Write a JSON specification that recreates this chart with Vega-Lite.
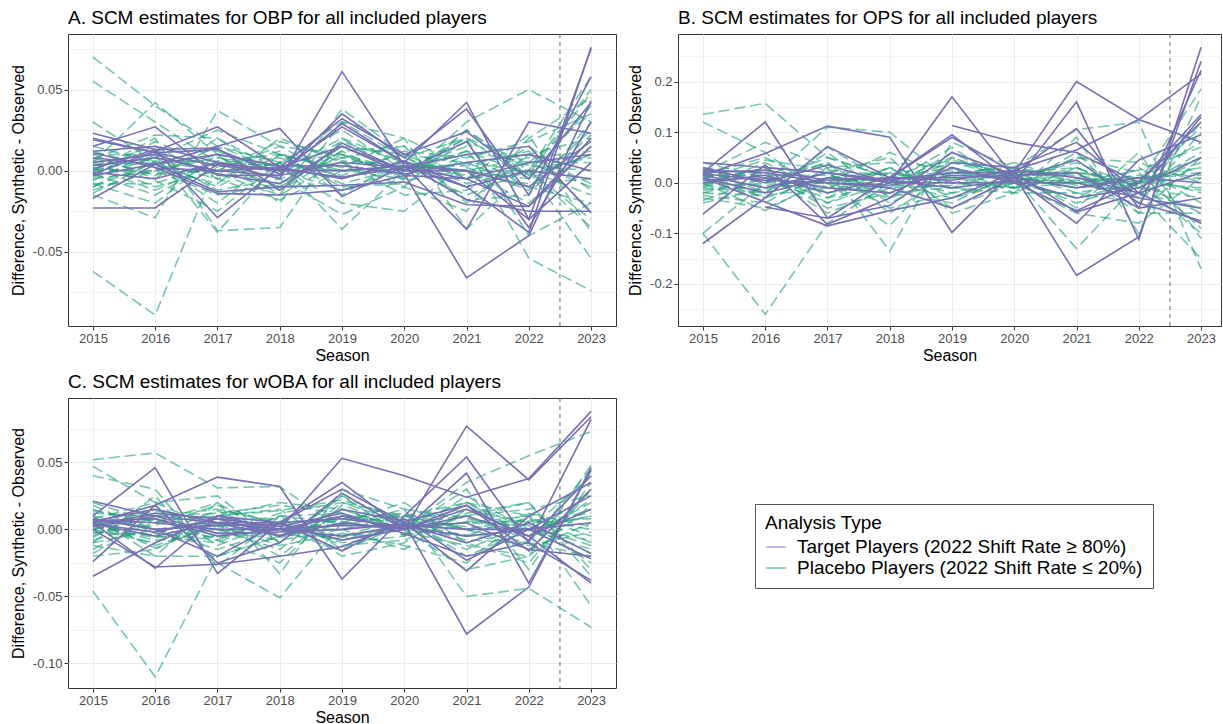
{
  "$schema": "https://vega.github.io/schema/vega-lite/v6.json",
  "padding": {"left": 9, "top": 8, "right": 0, "bottom": 0},
  "data": {"values": [
    {"m":"OBP","g":"P","id":1,"s":[2015,2016,2017,2018,2019,2020,2021,2022,2023],"v":[0.070,0.040,0.015,0.005,0.010,0.000,0.020,0.005,0.035]},
    {"m":"OBP","g":"P","id":2,"s":[2015,2016,2017,2018,2019,2020,2021,2022,2023],"v":[0.055,0.030,0.005,-0.010,0.015,0.010,0.005,-0.010,-0.020]},
    {"m":"OBP","g":"P","id":3,"s":[2015,2016,2017,2018,2019,2020,2021,2022,2023],"v":[0.030,0.005,-0.010,0.010,0.000,-0.005,0.030,0.050,0.030]},
    {"m":"OBP","g":"P","id":4,"s":[2015,2016,2017,2018,2019,2020,2021,2022,2023],"v":[-0.062,-0.089,0.005,0.003,0.000,0.003,0.000,-0.005,0.010]},
    {"m":"OBP","g":"P","id":5,"s":[2015,2016,2017,2018,2019,2020,2021,2022,2023],"v":[0.005,0.042,0.010,-0.015,0.038,0.010,-0.005,0.000,0.058]},
    {"m":"OBP","g":"P","id":6,"s":[2015,2016,2017,2018,2019,2020,2021,2022,2023],"v":[-0.015,-0.029,0.037,0.015,0.010,-0.005,0.025,0.000,-0.054]},
    {"m":"OBP","g":"P","id":7,"s":[2015,2016,2017,2018,2019,2020,2021,2022,2023],"v":[0.000,0.020,-0.037,-0.035,0.020,0.005,0.000,0.000,0.050]},
    {"m":"OBP","g":"P","id":8,"s":[2015,2016,2017,2018,2019,2020,2021,2022,2023],"v":[-0.010,0.010,-0.038,0.005,-0.036,0.000,0.015,-0.054,-0.074]},
    {"m":"OBP","g":"P","id":9,"s":[2015,2016,2017,2018,2019,2020,2021,2022,2023],"v":[0.010,-0.005,0.020,-0.005,-0.027,-0.010,-0.025,0.020,0.045]},
    {"m":"OBP","g":"P","id":10,"s":[2015,2016,2017,2018,2019,2020,2021,2022,2023],"v":[-0.005,0.000,0.010,-0.020,0.030,0.020,-0.036,0.000,-0.035]},
    {"m":"OBP","g":"P","id":11,"s":[2015,2016,2017,2018,2019,2020,2021,2022,2023],"v":[0.003,0.015,-0.005,0.005,0.025,0.000,0.020,-0.005,0.040]},
    {"m":"OBP","g":"P","id":12,"s":[2015,2016,2017,2018,2019,2020,2021,2022,2023],"v":[-0.008,-0.008,0.005,-0.010,0.012,0.015,-0.005,0.022,-0.038]},
    {"m":"OBP","g":"P","id":13,"s":[2015,2016,2017,2018,2019,2020,2021,2022,2023],"v":[0.015,0.005,-0.020,0.010,-0.010,-0.008,0.010,-0.010,0.025]},
    {"m":"OBP","g":"P","id":14,"s":[2015,2016,2017,2018,2019,2020,2021,2022,2023],"v":[-0.012,0.000,0.008,0.000,0.005,-0.015,-0.012,0.005,-0.010]},
    {"m":"OBP","g":"P","id":15,"s":[2015,2016,2017,2018,2019,2020,2021,2022,2023],"v":[0.005,-0.010,0.000,0.015,-0.005,0.005,0.000,-0.020,0.015]},
    {"m":"OBP","g":"P","id":16,"s":[2015,2016,2017,2018,2019,2020,2021,2022,2023],"v":[0.000,0.008,-0.012,-0.005,0.008,0.000,0.005,0.010,0.020]},
    {"m":"OBP","g":"P","id":17,"s":[2015,2016,2017,2018,2019,2020,2021,2022,2023],"v":[-0.003,0.018,0.002,0.012,-0.015,0.008,-0.008,0.000,-0.015]},
    {"m":"OBP","g":"P","id":18,"s":[2015,2016,2017,2018,2019,2020,2021,2022,2023],"v":[0.008,-0.003,0.015,0.000,0.020,-0.003,0.012,0.005,0.005]},
    {"m":"OBP","g":"P","id":19,"s":[2015,2016,2017,2018,2019,2020,2021,2022,2023],"v":[-0.010,0.005,-0.005,-0.018,0.000,0.010,-0.018,-0.015,0.030]},
    {"m":"OBP","g":"P","id":20,"s":[2015,2016,2017,2018,2019,2020,2021,2022,2023],"v":[0.002,-0.012,0.005,0.008,-0.008,0.002,0.003,0.012,-0.025]},
    {"m":"OBP","g":"P","id":21,"s":[2015,2016,2017,2018,2019,2020,2021,2022,2023],"v":[0.012,0.002,-0.008,0.020,0.005,-0.010,0.025,-0.003,0.010]},
    {"m":"OBP","g":"P","id":22,"s":[2015,2016,2017,2018,2019,2020,2021,2022,2023],"v":[-0.006,0.012,0.012,-0.002,0.018,0.005,-0.003,-0.008,-0.005]},
    {"m":"OBP","g":"P","id":23,"s":[2015,2016,2017,2018,2019,2020,2021,2022,2023],"v":[0.004,-0.006,-0.025,0.005,-0.003,0.012,0.008,0.018,0.035]},
    {"m":"OBP","g":"P","id":24,"s":[2015,2016,2017,2018,2019,2020,2021,2022,2023],"v":[-0.014,0.006,0.000,-0.012,0.010,-0.004,0.018,0.003,0.000]},
    {"m":"OBP","g":"P","id":25,"s":[2015,2016,2017,2018,2019,2020,2021,2022,2023],"v":[0.007,0.022,0.020,0.000,-0.012,0.002,-0.015,0.000,-0.030]},
    {"m":"OBP","g":"P","id":26,"s":[2015,2016,2017,2018,2019,2020,2021,2022,2023],"v":[-0.002,-0.015,0.006,0.010,0.002,0.020,0.002,-0.012,0.022]},
    {"m":"OBP","g":"P","id":27,"s":[2015,2016,2017,2018,2019,2020,2021,2022,2023],"v":[0.000,0.000,-0.015,-0.008,0.012,-0.006,0.000,0.008,0.012]},
    {"m":"OBP","g":"P","id":28,"s":[2015,2016,2017,2018,2019,2020,2021,2022,2023],"v":[0.010,0.010,0.003,0.004,0.030,0.008,0.020,-0.040,-0.020]},
    {"m":"OBP","g":"P","id":29,"s":[2015,2016,2017,2018,2019,2020,2021,2022,2023],"v":[-0.008,-0.020,0.010,0.002,-0.020,-0.025,0.005,0.000,0.008]},
    {"m":"OBP","g":"P","id":30,"s":[2015,2016,2017,2018,2019,2020,2021,2022,2023],"v":[0.006,0.003,-0.002,-0.015,0.006,0.003,-0.010,0.015,-0.012]},
    {"m":"OBP","g":"P","id":31,"s":[2015,2016,2017,2018,2019,2020,2021,2022,2023],"v":[-0.004,0.008,0.025,0.010,0.000,0.000,0.012,-0.002,0.048]},
    {"m":"OBP","g":"P","id":32,"s":[2015,2016,2017,2018,2019,2020,2021,2022,2023],"v":[0.002,-0.002,0.000,0.018,0.008,0.015,-0.020,0.010,-0.008]},
    {"m":"OBP","g":"T","id":1,"s":[2015,2016,2017,2018,2019,2020,2021,2022,2023],"v":[-0.023,-0.023,0.004,0.001,-0.004,0.002,-0.005,-0.022,0.020]},
    {"m":"OBP","g":"T","id":2,"s":[2015,2016,2017,2018,2019,2020,2021,2022,2023],"v":[0.012,0.015,0.005,-0.005,0.061,0.003,-0.010,-0.038,0.076]},
    {"m":"OBP","g":"T","id":3,"s":[2015,2016,2017,2018,2019,2020,2021,2022,2023],"v":[0.020,0.011,0.013,-0.002,0.029,0.005,0.042,-0.030,0.075]},
    {"m":"OBP","g":"T","id":4,"s":[2015,2016,2017,2018,2019,2020,2021,2022,2023],"v":[0.015,0.027,-0.003,-0.003,0.035,0.008,0.038,-0.015,0.058]},
    {"m":"OBP","g":"T","id":5,"s":[2015,2016,2017,2018,2019,2020,2021,2022,2023],"v":[-0.002,0.012,0.027,0.002,0.015,-0.002,-0.066,-0.040,0.043]},
    {"m":"OBP","g":"T","id":6,"s":[2015,2016,2017,2018,2019,2020,2021,2022,2023],"v":[0.023,0.013,-0.029,0.002,0.032,0.010,0.024,-0.005,0.042]},
    {"m":"OBP","g":"T","id":7,"s":[2015,2016,2017,2018,2019,2020,2021,2022,2023],"v":[-0.017,0.004,0.015,0.026,-0.016,0.003,-0.036,0.030,0.023]},
    {"m":"OBP","g":"T","id":8,"s":[2015,2016,2017,2018,2019,2020,2021,2022,2023],"v":[0.001,0.013,0.014,-0.012,0.017,0.000,0.018,-0.035,0.030]},
    {"m":"OBP","g":"T","id":9,"s":[2015,2016,2017,2018,2019,2020,2021,2022,2023],"v":[-0.003,0.004,-0.013,-0.010,-0.009,-0.007,-0.021,-0.022,0.015]},
    {"m":"OBP","g":"T","id":10,"s":[2015,2016,2017,2018,2019,2020,2021,2022,2023],"v":[0.019,0.011,0.003,0.000,0.027,0.005,-0.018,-0.025,-0.025]},
    {"m":"OBP","g":"T","id":11,"s":[2016,2017,2018,2019,2020,2021,2022,2023],"v":[0.0015,0.000,-0.003,0.005,0.002,0.010,0.015,-0.026]},
    {"m":"OBP","g":"T","id":12,"s":[2015,2016,2017,2018,2019,2020,2021,2022,2023],"v":[0.011,0.002,-0.014,-0.015,-0.012,-0.003,-0.005,0.005,0.010]},
    {"m":"OBP","g":"T","id":13,"s":[2015,2016,2017,2018,2019,2020,2021,2022,2023],"v":[-0.001,-0.005,0.005,0.000,0.000,0.003,0.000,-0.010,0.018]},
    {"m":"OBP","g":"T","id":14,"s":[2015,2016,2017,2018,2019,2020,2021,2022,2023],"v":[0.003,0.008,0.000,0.002,-0.005,0.006,-0.010,0.000,-0.005]},
    {"m":"OBP","g":"T","id":15,"s":[2015,2016,2017,2018,2019,2020,2021,2022,2023],"v":[0.005,0.010,-0.002,-0.008,0.015,0.000,0.000,-0.030,0.005]},
    {"m":"OBP","g":"T","id":16,"s":[2015,2016,2017,2018,2019,2020,2021,2022,2023],"v":[0.008,0.004,0.010,0.003,0.003,-0.002,0.005,0.010,0.000]},

    {"m":"OPS","g":"P","id":1,"s":[2015,2016,2017,2018,2019,2020,2021,2022,2023],"v":[0.135,0.157,0.050,0.010,-0.020,0.000,0.020,0.010,0.030]},
    {"m":"OPS","g":"P","id":2,"s":[2015,2016,2017,2018,2019,2020,2021,2022,2023],"v":[0.120,0.060,-0.030,0.000,0.040,0.010,0.000,-0.020,-0.050]},
    {"m":"OPS","g":"P","id":3,"s":[2015,2016,2017,2018,2019,2020,2021,2022,2023],"v":[-0.100,-0.260,-0.080,0.000,0.020,0.010,-0.010,0.000,0.010]},
    {"m":"OPS","g":"P","id":4,"s":[2015,2016,2017,2018,2019,2020,2021,2022,2023],"v":[-0.100,0.000,0.110,0.100,0.000,0.020,0.030,-0.020,-0.150]},
    {"m":"OPS","g":"P","id":5,"s":[2015,2016,2017,2018,2019,2020,2021,2022,2023],"v":[0.020,0.080,0.030,-0.135,0.080,0.030,0.105,0.120,-0.170]},
    {"m":"OPS","g":"P","id":6,"s":[2015,2016,2017,2018,2019,2020,2021,2022,2023],"v":[-0.030,-0.050,0.000,-0.085,0.050,0.010,-0.130,0.000,0.185]},
    {"m":"OPS","g":"P","id":7,"s":[2015,2016,2017,2018,2019,2020,2021,2022,2023],"v":[0.000,0.030,0.020,0.050,-0.060,-0.020,0.090,-0.100,0.170]},
    {"m":"OPS","g":"P","id":8,"s":[2015,2016,2017,2018,2019,2020,2021,2022,2023],"v":[0.030,-0.020,0.060,-0.030,0.040,0.020,-0.050,0.060,-0.110]},
    {"m":"OPS","g":"P","id":9,"s":[2015,2016,2017,2018,2019,2020,2021,2022,2023],"v":[-0.020,0.010,-0.040,0.020,0.000,0.000,0.030,-0.030,0.120]},
    {"m":"OPS","g":"P","id":10,"s":[2015,2016,2017,2018,2019,2020,2021,2022,2023],"v":[0.010,-0.030,0.010,-0.010,0.060,0.000,0.000,0.010,0.080]},
    {"m":"OPS","g":"P","id":11,"s":[2015,2016,2017,2018,2019,2020,2021,2022,2023],"v":[-0.010,0.040,-0.020,0.030,-0.030,0.010,-0.040,0.000,-0.060]},
    {"m":"OPS","g":"P","id":12,"s":[2015,2016,2017,2018,2019,2020,2021,2022,2023],"v":[0.025,0.000,0.040,-0.040,0.020,0.020,0.020,-0.060,0.050]},
    {"m":"OPS","g":"P","id":13,"s":[2015,2016,2017,2018,2019,2020,2021,2022,2023],"v":[-0.040,-0.010,0.000,0.010,0.010,-0.010,0.050,0.020,-0.090]},
    {"m":"OPS","g":"P","id":14,"s":[2015,2016,2017,2018,2019,2020,2021,2022,2023],"v":[0.005,0.020,-0.050,-0.020,-0.010,0.030,0.010,0.000,0.030]},
    {"m":"OPS","g":"P","id":15,"s":[2015,2016,2017,2018,2019,2020,2021,2022,2023],"v":[-0.025,-0.040,0.030,0.040,0.030,-0.020,-0.020,-0.040,0.100]},
    {"m":"OPS","g":"P","id":16,"s":[2015,2016,2017,2018,2019,2020,2021,2022,2023],"v":[0.015,0.050,-0.010,0.000,0.050,0.000,-0.030,0.030,-0.040]},
    {"m":"OPS","g":"P","id":17,"s":[2015,2016,2017,2018,2019,2020,2021,2022,2023],"v":[-0.005,-0.015,0.020,-0.050,-0.020,0.010,0.040,-0.010,0.060]},
    {"m":"OPS","g":"P","id":18,"s":[2015,2016,2017,2018,2019,2020,2021,2022,2023],"v":[0.040,0.010,-0.030,0.030,0.000,-0.010,0.000,0.015,-0.020]},
    {"m":"OPS","g":"P","id":19,"s":[2015,2016,2017,2018,2019,2020,2021,2022,2023],"v":[-0.015,0.000,0.050,0.010,0.030,0.000,-0.060,-0.080,0.010]},
    {"m":"OPS","g":"P","id":20,"s":[2015,2016,2017,2018,2019,2020,2021,2022,2023],"v":[0.000,-0.055,0.010,-0.020,-0.040,0.020,0.020,0.000,-0.100]},
    {"m":"OPS","g":"P","id":21,"s":[2015,2016,2017,2018,2019,2020,2021,2022,2023],"v":[0.010,0.025,0.000,0.060,0.010,0.040,0.000,0.025,0.070]},
    {"m":"OPS","g":"P","id":22,"s":[2015,2016,2017,2018,2019,2020,2021,2022,2023],"v":[-0.035,0.010,-0.020,0.000,0.070,-0.010,0.010,-0.010,-0.030]},
    {"m":"OPS","g":"P","id":23,"s":[2015,2016,2017,2018,2019,2020,2021,2022,2023],"v":[0.020,-0.030,0.070,0.000,-0.030,0.000,0.050,0.040,0.000]},
    {"m":"OPS","g":"P","id":24,"s":[2015,2016,2017,2018,2019,2020,2021,2022,2023],"v":[0.000,0.015,-0.060,-0.010,0.020,0.020,-0.020,0.000,0.040]},
    {"m":"OPS","g":"P","id":25,"s":[2015,2016,2017,2018,2019,2020,2021,2022,2023],"v":[-0.010,-0.020,0.010,0.020,-0.010,-0.020,0.030,-0.020,-0.080]},
    {"m":"OPS","g":"P","id":26,"s":[2015,2016,2017,2018,2019,2020,2021,2022,2023],"v":[0.030,0.000,0.000,-0.030,0.010,0.010,-0.010,0.010,0.020]},
    {"m":"OPS","g":"P","id":27,"s":[2015,2016,2017,2018,2019,2020,2021,2022,2023],"v":[0.008,0.045,0.025,0.015,0.045,0.015,0.015,-0.005,0.110]},
    {"m":"OPS","g":"P","id":28,"s":[2015,2016,2017,2018,2019,2020,2021,2022,2023],"v":[-0.020,-0.025,-0.010,0.030,-0.050,0.000,-0.030,0.000,-0.010]},
    {"m":"OPS","g":"P","id":29,"s":[2015,2016,2017,2018,2019,2020,2021,2022,2023],"v":[0.015,0.005,0.040,-0.060,0.020,0.030,0.000,0.000,0.050]},
    {"m":"OPS","g":"P","id":30,"s":[2015,2016,2017,2018,2019,2020,2021,2022,2023],"v":[-0.005,0.030,-0.040,0.000,0.000,-0.010,0.060,-0.060,-0.060]},
    {"m":"OPS","g":"P","id":31,"s":[2015,2016,2017,2018,2019,2020,2021,2022,2023],"v":[0.000,-0.005,0.005,0.005,0.025,0.005,0.005,0.010,0.015]},
    {"m":"OPS","g":"P","id":32,"s":[2015,2016,2017,2018,2019,2020,2021,2022,2023],"v":[0.012,0.015,0.015,-0.010,-0.005,0.020,-0.005,0.005,-0.015]},
    {"m":"OPS","g":"T","id":1,"s":[2015,2016,2017,2018,2019,2020,2021,2022,2023],"v":[0.040,0.030,0.020,0.000,0.170,0.010,-0.080,0.045,0.095]},
    {"m":"OPS","g":"T","id":2,"s":[2015,2016,2017,2018,2019,2020,2021,2022,2023],"v":[0.020,0.120,-0.070,0.010,0.090,0.020,0.200,0.125,0.080]},
    {"m":"OPS","g":"T","id":3,"s":[2015,2016,2017,2018,2019,2020,2021,2022,2023],"v":[0.015,0.058,0.112,0.090,-0.098,0.025,0.065,0.125,0.215]},
    {"m":"OPS","g":"T","id":4,"s":[2015,2016,2017,2018,2019,2020,2021,2022,2023],"v":[-0.120,-0.030,0.072,0.010,0.095,0.000,0.160,-0.112,0.268]},
    {"m":"OPS","g":"T","id":5,"s":[2015,2016,2017,2018,2019,2020,2021,2022,2023],"v":[-0.062,0.035,-0.082,-0.030,0.060,0.015,-0.183,-0.107,0.240]},
    {"m":"OPS","g":"T","id":6,"s":[2015,2016,2017,2018,2019,2020,2021,2022,2023],"v":[0.010,-0.038,-0.085,-0.055,-0.030,0.020,0.107,-0.050,0.222]},
    {"m":"OPS","g":"T","id":7,"s":[2019,2020,2021,2022,2023],"v":[0.113,0.080,0.060,0.000,0.135]},
    {"m":"OPS","g":"T","id":8,"s":[2016,2017,2018,2019,2020,2021,2022,2023],"v":[-0.048,-0.070,-0.045,0.040,0.030,0.080,-0.020,0.130]},
    {"m":"OPS","g":"T","id":9,"s":[2015,2016,2017,2018,2019,2020,2021,2022,2023],"v":[0.030,0.000,0.035,0.000,0.000,0.000,-0.055,0.000,0.120]},
    {"m":"OPS","g":"T","id":10,"s":[2015,2016,2017,2018,2019,2020,2021,2022,2023],"v":[0.025,0.020,0.000,-0.010,-0.050,0.010,0.045,-0.040,-0.075]},
    {"m":"OPS","g":"T","id":11,"s":[2015,2016,2017,2018,2019,2020,2021,2022,2023],"v":[0.010,-0.020,0.010,0.005,0.020,0.020,-0.058,-0.020,-0.080]},
    {"m":"OPS","g":"T","id":12,"s":[2015,2016,2017,2018,2019,2020,2021,2022,2023],"v":[0.005,0.010,-0.010,-0.020,0.030,0.000,0.000,-0.030,-0.050]},
    {"m":"OPS","g":"T","id":13,"s":[2015,2016,2017,2018,2019,2020,2021,2022,2023],"v":[0.020,0.025,0.005,0.010,0.010,0.015,0.020,-0.050,-0.030]},
    {"m":"OPS","g":"T","id":14,"s":[2015,2016,2017,2018,2019,2020,2021,2022,2023],"v":[0.015,-0.010,0.020,0.005,-0.010,0.005,-0.030,-0.010,0.050]},
    {"m":"OPS","g":"T","id":15,"s":[2015,2016,2017,2018,2019,2020,2021,2022,2023],"v":[0.000,0.015,-0.020,0.010,0.005,0.025,0.010,-0.020,0.020]},
    {"m":"OPS","g":"T","id":16,"s":[2015,2016,2017,2018,2019,2020,2021,2022,2023],"v":[0.018,0.005,0.000,-0.005,0.015,0.010,-0.010,0.010,0.000]},

    {"m":"wOBA","g":"P","id":1,"s":[2015,2016,2017,2018,2019,2020,2021,2022,2023],"v":[0.052,0.057,0.031,0.032,0.000,0.010,0.020,0.000,0.010]},
    {"m":"wOBA","g":"P","id":2,"s":[2015,2016,2017,2018,2019,2020,2021,2022,2023],"v":[0.047,0.020,0.025,-0.010,0.025,0.005,0.000,-0.010,-0.020]},
    {"m":"wOBA","g":"P","id":3,"s":[2015,2016,2017,2018,2019,2020,2021,2022,2023],"v":[-0.046,-0.110,-0.020,-0.005,0.010,0.005,-0.005,0.000,0.015]},
    {"m":"wOBA","g":"P","id":4,"s":[2015,2016,2017,2018,2019,2020,2021,2022,2023],"v":[0.040,0.030,-0.025,-0.051,0.005,0.000,0.035,0.055,0.073]},
    {"m":"wOBA","g":"P","id":5,"s":[2015,2016,2017,2018,2019,2020,2021,2022,2023],"v":[0.010,-0.020,0.020,-0.033,0.030,0.015,-0.050,-0.044,-0.073]},
    {"m":"wOBA","g":"P","id":6,"s":[2015,2016,2017,2018,2019,2020,2021,2022,2023],"v":[-0.010,0.025,-0.028,0.010,-0.020,-0.010,0.020,0.010,-0.057]},
    {"m":"wOBA","g":"P","id":7,"s":[2015,2016,2017,2018,2019,2020,2021,2022,2023],"v":[0.000,-0.010,0.010,0.020,0.015,0.000,-0.030,-0.020,0.048]},
    {"m":"wOBA","g":"P","id":8,"s":[2015,2016,2017,2018,2019,2020,2021,2022,2023],"v":[0.020,0.005,0.000,-0.015,0.020,0.010,0.010,0.020,-0.035]},
    {"m":"wOBA","g":"P","id":9,"s":[2015,2016,2017,2018,2019,2020,2021,2022,2023],"v":[-0.015,0.010,0.015,0.005,-0.010,-0.005,0.025,0.000,0.040]},
    {"m":"wOBA","g":"P","id":10,"s":[2015,2016,2017,2018,2019,2020,2021,2022,2023],"v":[0.005,-0.005,-0.010,0.010,0.005,0.020,-0.010,-0.025,0.030]},
    {"m":"wOBA","g":"P","id":11,"s":[2015,2016,2017,2018,2019,2020,2021,2022,2023],"v":[-0.005,0.015,0.005,-0.020,0.015,0.000,0.005,0.010,-0.010]},
    {"m":"wOBA","g":"P","id":12,"s":[2015,2016,2017,2018,2019,2020,2021,2022,2023],"v":[0.015,0.000,-0.015,0.000,0.000,-0.015,0.015,-0.005,0.020]},
    {"m":"wOBA","g":"P","id":13,"s":[2015,2016,2017,2018,2019,2020,2021,2022,2023],"v":[-0.020,-0.015,0.010,0.015,-0.015,0.005,-0.015,0.005,-0.025]},
    {"m":"wOBA","g":"P","id":14,"s":[2015,2016,2017,2018,2019,2020,2021,2022,2023],"v":[0.008,0.020,0.000,0.000,0.010,0.010,0.000,-0.015,0.005]},
    {"m":"wOBA","g":"P","id":15,"s":[2015,2016,2017,2018,2019,2020,2021,2022,2023],"v":[-0.008,0.005,0.020,-0.010,0.025,-0.005,0.010,0.015,0.025]},
    {"m":"wOBA","g":"P","id":16,"s":[2015,2016,2017,2018,2019,2020,2021,2022,2023],"v":[0.003,-0.008,-0.005,0.005,-0.005,0.008,-0.020,0.000,-0.015]},
    {"m":"wOBA","g":"P","id":17,"s":[2015,2016,2017,2018,2019,2020,2021,2022,2023],"v":[0.012,0.010,0.012,0.018,0.012,0.000,0.030,-0.030,0.035]},
    {"m":"wOBA","g":"P","id":18,"s":[2015,2016,2017,2018,2019,2020,2021,2022,2023],"v":[-0.012,-0.020,-0.020,-0.005,0.008,0.012,0.000,0.008,0.000]},
    {"m":"wOBA","g":"P","id":19,"s":[2015,2016,2017,2018,2019,2020,2021,2022,2023],"v":[0.000,0.012,0.008,0.008,-0.012,-0.008,0.012,0.020,-0.030]},
    {"m":"wOBA","g":"P","id":20,"s":[2015,2016,2017,2018,2019,2020,2021,2022,2023],"v":[0.018,-0.003,-0.008,-0.025,0.018,0.003,-0.008,-0.010,0.045]},
    {"m":"wOBA","g":"P","id":21,"s":[2015,2016,2017,2018,2019,2020,2021,2022,2023],"v":[-0.003,0.003,0.018,0.003,0.003,0.015,0.008,0.000,0.010]},
    {"m":"wOBA","g":"P","id":22,"s":[2015,2016,2017,2018,2019,2020,2021,2022,2023],"v":[0.006,-0.012,0.003,-0.012,-0.003,-0.012,-0.025,0.012,-0.005]},
    {"m":"wOBA","g":"P","id":23,"s":[2015,2016,2017,2018,2019,2020,2021,2022,2023],"v":[-0.018,0.008,-0.003,0.012,0.020,0.005,0.020,-0.005,0.028]},
    {"m":"wOBA","g":"P","id":24,"s":[2015,2016,2017,2018,2019,2020,2021,2022,2023],"v":[0.010,0.000,0.006,0.000,-0.008,0.002,0.005,0.003,-0.012]},
    {"m":"wOBA","g":"P","id":25,"s":[2015,2016,2017,2018,2019,2020,2021,2022,2023],"v":[-0.006,0.018,-0.012,0.006,0.006,-0.002,-0.012,-0.020,0.018]},
    {"m":"wOBA","g":"P","id":26,"s":[2015,2016,2017,2018,2019,2020,2021,2022,2023],"v":[0.002,-0.006,0.000,-0.008,0.000,0.006,0.015,0.005,0.008]},
    {"m":"wOBA","g":"P","id":27,"s":[2015,2016,2017,2018,2019,2020,2021,2022,2023],"v":[0.014,0.006,0.010,0.014,0.022,0.008,0.002,0.000,-0.022]},
    {"m":"wOBA","g":"P","id":28,"s":[2015,2016,2017,2018,2019,2020,2021,2022,2023],"v":[-0.010,0.000,-0.006,-0.002,0.010,0.000,-0.005,0.012,0.002]},
    {"m":"wOBA","g":"P","id":29,"s":[2015,2016,2017,2018,2019,2020,2021,2022,2023],"v":[0.004,0.014,0.002,0.000,-0.016,0.004,0.010,-0.008,0.022]},
    {"m":"wOBA","g":"P","id":30,"s":[2015,2016,2017,2018,2019,2020,2021,2022,2023],"v":[-0.002,-0.004,0.014,-0.006,0.004,0.010,0.000,0.000,-0.008]},
    {"m":"wOBA","g":"P","id":31,"s":[2015,2016,2017,2018,2019,2020,2021,2022,2023],"v":[0.000,0.008,-0.008,0.010,0.012,-0.004,0.006,0.006,0.012]},
    {"m":"wOBA","g":"P","id":32,"s":[2015,2016,2017,2018,2019,2020,2021,2022,2023],"v":[0.008,-0.014,0.004,-0.004,-0.006,0.002,-0.004,-0.012,-0.002]},
    {"m":"wOBA","g":"T","id":1,"s":[2015,2016,2017,2018,2019,2020,2021,2022,2023],"v":[0.021,0.010,0.005,0.000,0.053,0.040,0.024,0.038,0.088]},
    {"m":"wOBA","g":"T","id":2,"s":[2015,2016,2017,2018,2019,2020,2021,2022,2023],"v":[0.010,0.046,-0.033,0.005,0.035,0.000,0.077,0.037,0.084]},
    {"m":"wOBA","g":"T","id":3,"s":[2015,2016,2017,2018,2019,2020,2021,2022,2023],"v":[0.005,0.018,0.039,0.032,-0.037,0.010,0.054,-0.010,0.082]},
    {"m":"wOBA","g":"T","id":4,"s":[2015,2016,2017,2018,2019,2020,2021,2022,2023],"v":[-0.035,-0.010,0.010,0.005,0.030,0.005,-0.078,-0.043,0.046]},
    {"m":"wOBA","g":"T","id":5,"s":[2015,2016,2017,2018,2019,2020,2021,2022,2023],"v":[-0.024,0.018,-0.025,-0.010,0.027,0.000,0.042,-0.040,0.044]},
    {"m":"wOBA","g":"T","id":6,"s":[2015,2016,2017,2018,2019,2020,2021,2022,2023],"v":[0.000,-0.028,-0.026,-0.020,-0.013,0.005,-0.031,0.010,0.035]},
    {"m":"wOBA","g":"T","id":7,"s":[2015,2016,2017,2018,2019,2020,2021,2022,2023],"v":[0.005,-0.029,0.010,0.000,0.010,0.000,0.018,-0.016,0.030]},
    {"m":"wOBA","g":"T","id":8,"s":[2015,2016,2017,2018,2019,2020,2021,2022,2023],"v":[0.008,0.000,-0.020,0.005,-0.016,0.008,-0.023,0.000,0.025]},
    {"m":"wOBA","g":"T","id":9,"s":[2015,2016,2017,2018,2019,2020,2021,2022,2023],"v":[0.006,0.015,0.005,-0.005,0.005,0.000,0.015,-0.005,-0.040]},
    {"m":"wOBA","g":"T","id":10,"s":[2015,2016,2017,2018,2019,2020,2021,2022,2023],"v":[0.003,0.012,0.008,0.002,0.012,-0.003,-0.020,-0.010,-0.038]},
    {"m":"wOBA","g":"T","id":11,"s":[2015,2016,2017,2018,2019,2020,2021,2022,2023],"v":[0.007,0.005,0.000,0.000,-0.005,0.003,0.000,0.000,-0.022]},
    {"m":"wOBA","g":"T","id":12,"s":[2015,2016,2017,2018,2019,2020,2021,2022,2023],"v":[0.004,-0.005,0.005,0.005,0.008,0.002,0.005,-0.015,-0.020]},
    {"m":"wOBA","g":"T","id":13,"s":[2015,2016,2017,2018,2019,2020,2021,2022,2023],"v":[0.002,0.010,-0.003,-0.002,0.000,0.004,-0.010,0.005,-0.018]},
    {"m":"wOBA","g":"T","id":14,"s":[2015,2016,2017,2018,2019,2020,2021,2022,2023],"v":[0.008,0.000,0.003,0.004,-0.008,0.000,0.010,-0.005,0.015]},
    {"m":"wOBA","g":"T","id":15,"s":[2015,2016,2017,2018,2019,2020,2021,2022,2023],"v":[0.006,0.008,-0.005,0.000,0.003,0.002,-0.005,0.000,0.005]},
    {"m":"wOBA","g":"T","id":16,"s":[2015,2016,2017,2018,2019,2020,2021,2022,2023],"v":[0.004,-0.002,0.008,-0.005,0.015,0.006,0.018,-0.008,0.040]}
  ]},
  "resolve": {"scale": {"x": "independent", "y": "independent", "color": "shared"}},
  "spacing": 8,
  "vconcat": [
    {
      "spacing": 10,
      "resolve": {"scale": {"x": "independent", "y": "independent", "color": "shared"}},
      "hconcat": [
        {
          "width": 548, "height": 292,
          "title": "A. SCM estimates for OBP for all included players",
          "encoding": {
            "x": {"field": "s", "type": "quantitative", "scale": {"domain": [2014.6, 2023.4], "nice": false, "zero": false},
                  "axis": {"title": "Season", "values": [2015,2016,2017,2018,2019,2020,2021,2022,2023], "format": "d", "labelOverlap": false}},
            "y": {"field": "v", "type": "quantitative", "scale": {"domain": [-0.0957, 0.0842], "nice": false, "zero": false},
                  "axis": {"title": "Difference, Synthetic - Observed", "values": [-0.075,-0.05,-0.025,0,0.025,0.05,0.075],
                           "labelExpr": "abs(round(datum.value*1000))%50==0 ? replace(format(datum.value,'.2f'),'\u2212','-') : ''",
                           "tickColor": {"condition": {"test": "abs(round(datum.value*1000))%50!=0", "value": "transparent"}, "value": "#333333"},
                           "gridWidth": {"condition": {"test": "abs(round(datum.value*1000))%50!=0", "value": 0.6}, "value": 1.2}}}
          },
          "layer": [
            {"transform": [{"filter": "datum.m=='OBP' && datum.g=='P'"}, {"flatten": ["s", "v"]}],
             "mark": {"type": "line", "strokeDash": [11, 5], "strokeWidth": 1.6, "opacity": 0.6},
             "encoding": {"color": {"field": "g", "type": "nominal", "scale": {"domain": ["T", "P"], "range": ["#7570B3", "#1B9E77"]},
                          "legend": {"title": "Analysis Type", "orient": "none", "legendX": 687, "legendY": 470,
                                     "labelExpr": "datum.label == 'T' ? 'Target Players (2022 Shift Rate \u2265 80%)' : 'Placebo Players (2022 Shift Rate \u2264 20%)'",
                                     "symbolType": "stroke", "symbolSize": 400, "symbolStrokeWidth": 1.6,
                                     "titleFontSize": 19, "labelFontSize": 19, "titleFontWeight": "normal", "titleColor": "#000000", "labelColor": "#000000",
                                     "titleFont": "Liberation Sans", "labelFont": "Liberation Sans",
                                     "padding": 10, "strokeColor": "#555555", "labelOffset": 10, "rowPadding": 0, "titlePadding": 3, "labelLimit": 600,
                                     "encode": {"symbols": {"update": {"opacity": {"signal": "datum.value == 'P' ? 0.6 : 1"}}}}}},
                          "detail": {"field": "id"}}},
            {"transform": [{"filter": "datum.m=='OBP' && datum.g=='T'"}, {"flatten": ["s", "v"]}],
             "mark": {"type": "line", "strokeWidth": 1.6},
             "encoding": {"color": {"field": "g", "type": "nominal"}, "detail": {"field": "id"}}},
            {"data": {"values": [{"s": 2022.5}]},
             "mark": {"type": "rule", "strokeDash": [4, 4], "color": "#666666", "strokeWidth": 1},
             "encoding": {"x": {"field": "s", "type": "quantitative"}, "y": null}}
          ]
        },
        {
          "width": 543, "height": 292,
          "title": "B. SCM estimates for OPS for all included players",
          "encoding": {
            "x": {"field": "s", "type": "quantitative", "scale": {"domain": [2014.6, 2023.32], "nice": false, "zero": false},
                  "axis": {"title": "Season", "values": [2015,2016,2017,2018,2019,2020,2021,2022,2023], "format": "d", "labelOverlap": false}},
            "y": {"field": "v", "type": "quantitative", "scale": {"domain": [-0.283, 0.294], "nice": false, "zero": false},
                  "axis": {"title": "Difference, Synthetic - Observed", "values": [-0.25,-0.2,-0.15,-0.1,-0.05,0,0.05,0.1,0.15,0.2,0.25],
                           "labelExpr": "abs(round(datum.value*100))%10==0 ? replace(format(datum.value,'.1f'),'\u2212','-') : ''",
                           "tickColor": {"condition": {"test": "abs(round(datum.value*100))%10!=0", "value": "transparent"}, "value": "#333333"},
                           "gridWidth": {"condition": {"test": "abs(round(datum.value*100))%10!=0", "value": 0.6}, "value": 1.2}}}
          },
          "layer": [
            {"transform": [{"filter": "datum.m=='OPS' && datum.g=='P'"}, {"flatten": ["s", "v"]}],
             "mark": {"type": "line", "strokeDash": [11, 5], "strokeWidth": 1.6, "opacity": 0.6},
             "encoding": {"color": {"field": "g", "type": "nominal"}, "detail": {"field": "id"}}},
            {"transform": [{"filter": "datum.m=='OPS' && datum.g=='T'"}, {"flatten": ["s", "v"]}],
             "mark": {"type": "line", "strokeWidth": 1.6},
             "encoding": {"color": {"field": "g", "type": "nominal"}, "detail": {"field": "id"}}},
            {"data": {"values": [{"s": 2022.5}]},
             "mark": {"type": "rule", "strokeDash": [4, 4], "color": "#666666", "strokeWidth": 1},
             "encoding": {"x": {"field": "s", "type": "quantitative"}, "y": null}}
          ]
        }
      ]
    },
    {
      "width": 548, "height": 290,
      "title": "C. SCM estimates for wOBA for all included players",
      "encoding": {
        "x": {"field": "s", "type": "quantitative", "scale": {"domain": [2014.6, 2023.4], "nice": false, "zero": false},
              "axis": {"title": "Season", "values": [2015,2016,2017,2018,2019,2020,2021,2022,2023], "format": "d", "labelOverlap": false}},
        "y": {"field": "v", "type": "quantitative", "scale": {"domain": [-0.1183, 0.098], "nice": false, "zero": false},
              "axis": {"title": "Difference, Synthetic - Observed", "values": [-0.1,-0.075,-0.05,-0.025,0,0.025,0.05,0.075],
                       "labelExpr": "abs(round(datum.value*1000))%50==0 ? replace(format(datum.value,'.2f'),'\u2212','-') : ''",
                       "tickColor": {"condition": {"test": "abs(round(datum.value*1000))%50!=0", "value": "transparent"}, "value": "#333333"},
                       "gridWidth": {"condition": {"test": "abs(round(datum.value*1000))%50!=0", "value": 0.6}, "value": 1.2}}}
      },
      "layer": [
        {"transform": [{"filter": "datum.m=='wOBA' && datum.g=='P'"}, {"flatten": ["s", "v"]}],
         "mark": {"type": "line", "strokeDash": [11, 5], "strokeWidth": 1.6, "opacity": 0.6},
         "encoding": {"color": {"field": "g", "type": "nominal"}, "detail": {"field": "id"}}},
        {"transform": [{"filter": "datum.m=='wOBA' && datum.g=='T'"}, {"flatten": ["s", "v"]}],
         "mark": {"type": "line", "strokeWidth": 1.6},
         "encoding": {"color": {"field": "g", "type": "nominal"}, "detail": {"field": "id"}}},
        {"data": {"values": [{"s": 2022.5}]},
         "mark": {"type": "rule", "strokeDash": [4, 4], "color": "#666666", "strokeWidth": 1},
         "encoding": {"x": {"field": "s", "type": "quantitative"}, "y": null}}
      ]
    }
  ],
  "config": {
    "font": "Liberation Sans",
    "background": "white",
    "view": {"stroke": "#333333", "strokeWidth": 1},
    "axis": {"domain": false, "grid": true, "gridColor": "#EBEBEB", "tickColor": "#333333", "tickSize": 4, "tickWidth": 1,
             "labelFont": "Liberation Sans", "labelFontSize": 13, "labelColor": "#4D4D4D", "labelPadding": 2,
             "titleFont": "Liberation Sans", "titleFontSize": 16, "titleFontWeight": "normal", "titleColor": "#000000"},
    "axisX": {"titlePadding": 2},
    "axisY": {"titlePadding": 6},
    "title": {"font": "Liberation Sans", "fontSize": 19, "fontWeight": "normal", "anchor": "start", "frame": "group", "offset": 6, "color": "#000000"}
  }
}
